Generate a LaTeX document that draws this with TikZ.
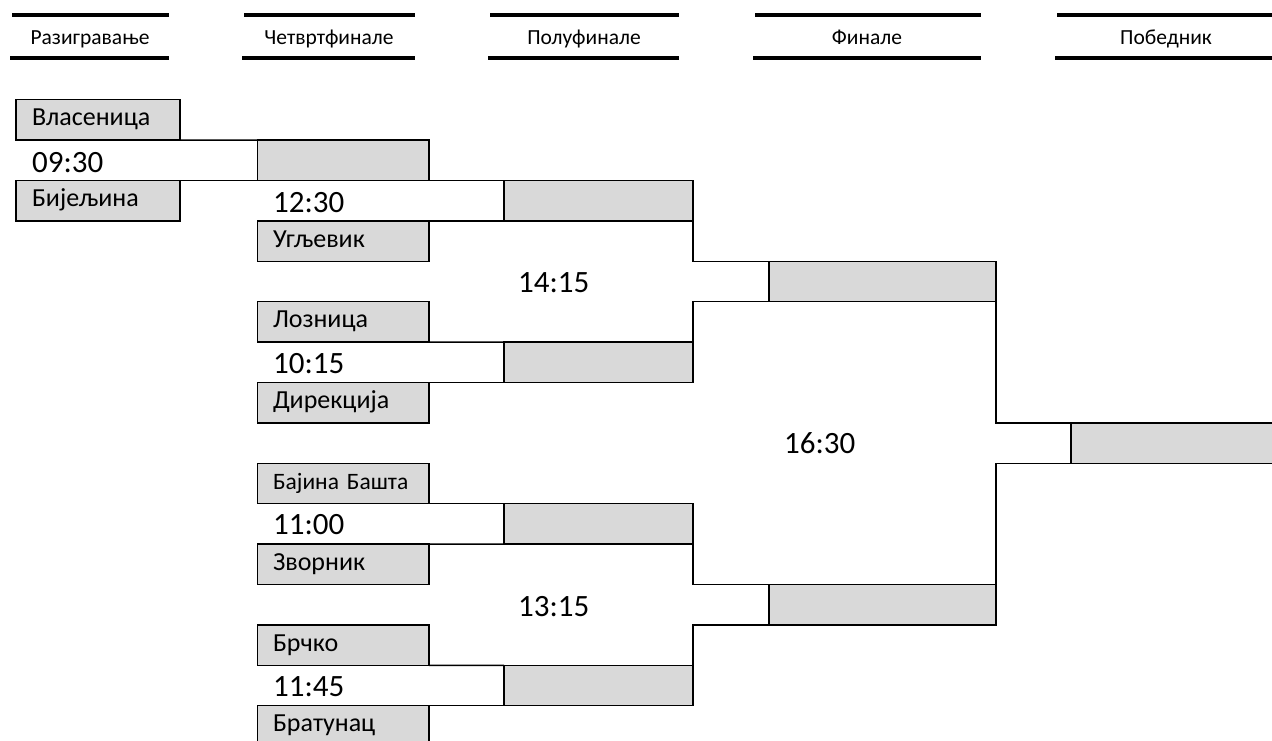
\documentclass[tikz,border=0pt]{standalone}
\usepackage{fontspec}
\setmainfont{Carlito}
\definecolor{cellgray}{HTML}{D9D9D9}

\begin{document}
\begin{tikzpicture}[x=1pt,y=-1pt,
  slot/.style={draw, fill=cellgray, line width=1.5pt, outer sep=0pt, inner sep=0pt,
    anchor=north west, minimum height=40.4pt},
  team/.style={slot, font=\fontsize{26}{31}\selectfont, text height=17pt, text depth=5pt,
    align=left, inner xsep=16pt},
  teamA/.style={team, text width=132pt},
  teamB/.style={team, text width=140.5pt, inner xsep=15.5pt},
  time/.style={anchor=base west, inner sep=0pt, font=\fontsize{31}{37}\selectfont},
  hdr/.style={anchor=base, inner sep=0pt, font=\fontsize{21.5}{26}\selectfont},
  rule/.style={line width=3.3pt},
  link/.style={line width=1.5pt}]

\useasboundingbox (0,0) rectangle (1272,741);
\clip (0,0) rectangle (1272,741);

\draw [rule] (12,15) -- (169,15);
\draw [rule] (10,58) -- (169,58);
\node [hdr] (h1) at (90,45) {Разигравање};
\draw [rule] (244,15) -- (415,15);
\draw [rule] (242,58) -- (415,58);
\node [hdr] (h2) at (329,45) {Четвртфинале};
\draw [rule] (490,15) -- (679,15);
\draw [rule] (488,58) -- (679,58);
\node [hdr] (h3) at (584,45) {Полуфинале};
\draw [rule] (755,15) -- (981,15);
\draw [rule] (753,58) -- (981,58);
\node [hdr] (h4) at (867,45) {Финале};
\draw [rule] (1057,15) -- (1272,15);
\draw [rule] (1055,58) -- (1272,58);
\node [hdr] (h5) at (1166,45) {Победник};

\node [teamA] (vlas) at (16,99.7) {Власеница};
\node [teamA] (bij) at (16,180.5) {Бијељина};
\node [slot, minimum width=171.5pt] (wB1) at (257.5,140.1) {};
\node [time] (t1) at (32,172) {09:30};

\node [teamB] (ugl) at (257.5,220.9) {Угљевик};
\node [teamB] (loz) at (257.5,301.7) {Лозница};
\node [teamB] (dir) at (257.5,382.5) {Дирекција};
\node [teamB, font=\fontsize{23.5}{28}\selectfont] (baj) at (257.5,463.3) {Бајина Башта};
\node [teamB] (zvo) at (257.5,544.1) {Зворник};
\node [teamB] (brc) at (257.5,624.9) {Брчко};
\node [teamB] (bra) at (257.5,705.7) {Братунац};

\node [slot, minimum width=189pt] (wC2) at (504,180.5) {};
\node [slot, minimum width=189pt] (wC6) at (504,342.1) {};
\node [slot, minimum width=189pt] (wC10) at (504,503.7) {};
\node [slot, minimum width=189pt] (wC14) at (504,665.3) {};
\node [time] (t2) at (273,212) {12:30};
\node [time] (t3) at (273,373) {10:15};
\node [time] (t4) at (273,534) {11:00};
\node [time] (t5) at (273,696) {11:45};

\node [slot, minimum width=227pt] (wD4) at (769,261.3) {};
\node [slot, minimum width=227pt] (wD12) at (769,584.5) {};
\node [time] (t6) at (518,292) {14:15};
\node [time] (t7) at (518,616) {13:15};

\node [slot, minimum width=215pt] (wE8) at (1071,422.9) {};
\node [time] (t8) at (784,453) {16:30};

\draw [link] (vlas.south east) -- (wB1.north west);
\draw [link] (bij.north east) -- (wB1.south west);
\draw [link] (wB1.south east) -- (wC2.north west);
\draw [link] (ugl.north east) -- (wC2.south west);
\draw [link] (loz.south east) -- (wC6.north west);
\draw [link] (dir.north east) -- (wC6.south west);
\draw [link] (baj.south east) -- (wC10.north west);
\draw [link] (zvo.north east) -- (wC10.south west);
\draw [link] (brc.south east) -- (wC14.north west);
\draw [link] (bra.north east) -- (wC14.south west);

\draw [link] (wC2.south east) |- (wD4.north west);
\draw [link] (wC6.north east) |- (wD4.south west);
\draw [link] (wC10.south east) |- (wD12.north west);
\draw [link] (wC14.north east) |- (wD12.south west);

\draw [link] (wD4.south east) |- (wE8.north west);
\draw [link] (wD12.north east) |- (wE8.south west);

\end{tikzpicture}
\end{document}
